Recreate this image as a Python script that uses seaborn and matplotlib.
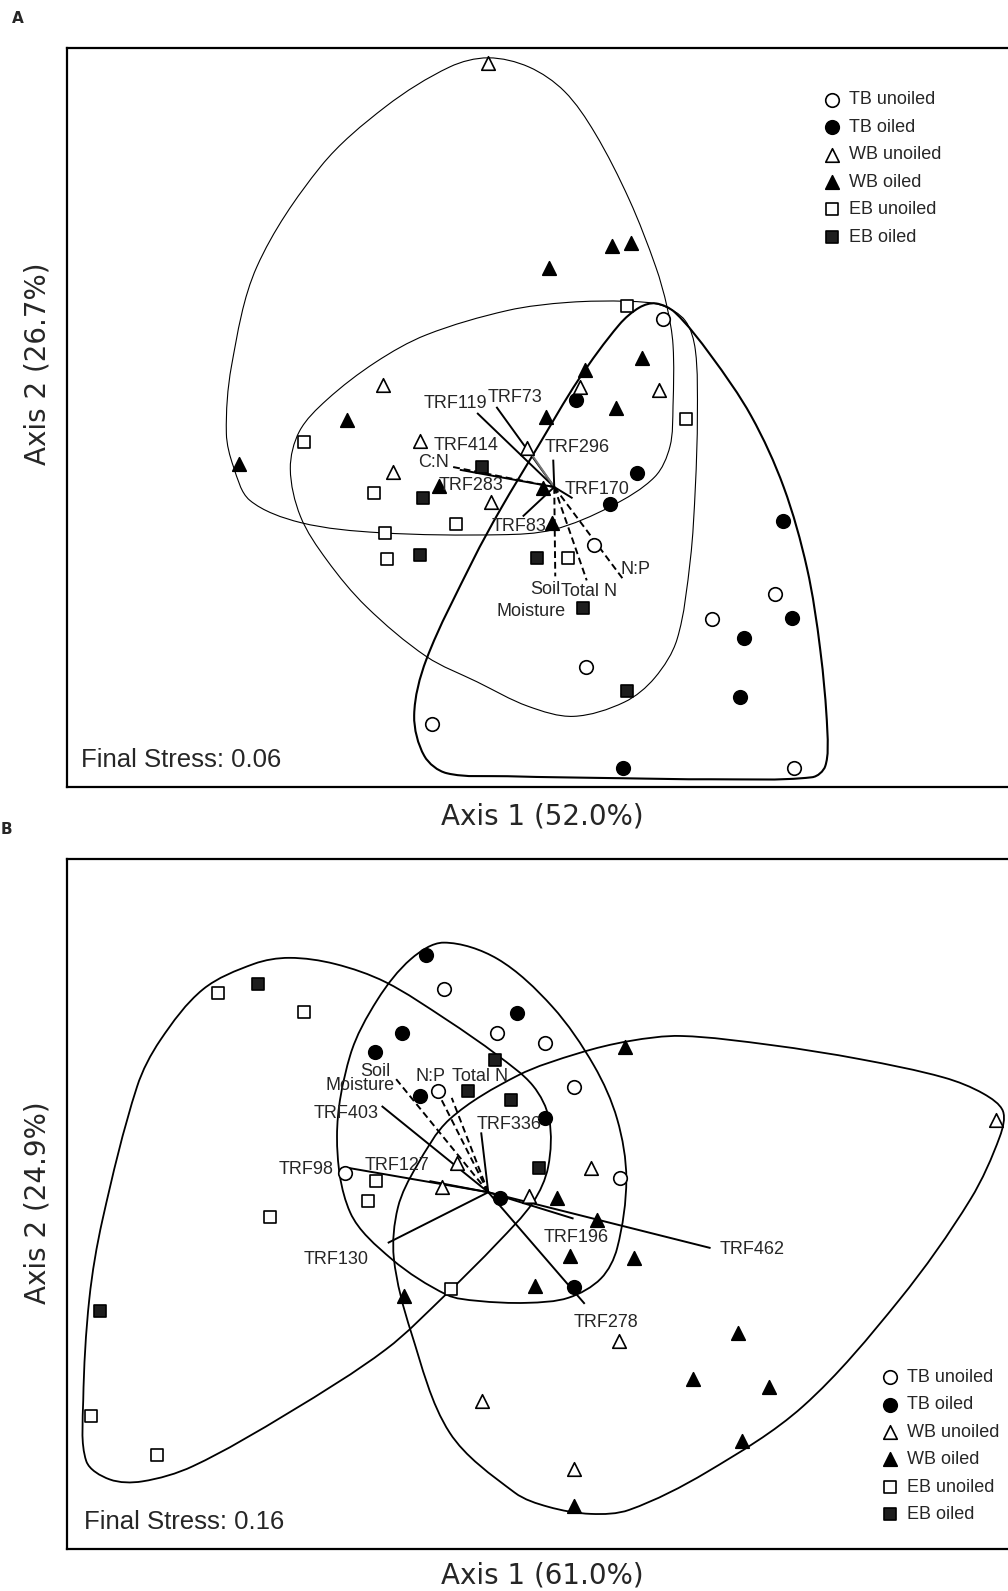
import numpy as np
import pandas as pd
import matplotlib
matplotlib.use('Agg')
import matplotlib.pyplot as plt
import seaborn as sns
from matplotlib.path import Path
from matplotlib.patches import PathPatch

# ---------------- Panel A data (NMDS scores, arbitrary units) ----------------
a_tb_unoiled_x = [5.87, 5.19, 6.35, 6.97, 5.11, 3.60, 7.16]
a_tb_unoiled_y = [4.62, 2.39, 1.66, 1.91, 1.19, 0.62, 0.19]
a_tb_oiled_x = [5.01, 5.62, 5.35, 7.05, 7.14, 6.67, 6.63, 5.48]
a_tb_oiled_y = [3.82, 3.10, 2.79, 2.63, 1.67, 1.47, 0.89, 0.19]
a_wb_unoiled_x = [4.15, 3.11, 5.05, 5.83, 3.48, 4.53, 3.21, 4.18]
a_wb_unoiled_y = [7.14, 3.97, 3.95, 3.92, 3.41, 3.34, 3.11, 2.81]
a_wb_oiled_x = [1.69, 2.76, 4.75, 5.37, 5.56, 5.10, 5.66, 4.72, 5.41, 3.66, 4.69, 4.78]
a_wb_oiled_y = [3.19, 3.62, 5.12, 5.34, 5.37, 4.11, 4.23, 3.65, 3.74, 2.97, 2.95, 2.61]
a_eb_unoiled_x = [5.52, 2.33, 6.10, 3.02, 3.13, 3.83, 3.15, 4.94]
a_eb_unoiled_y = [4.74, 3.40, 3.63, 2.90, 2.51, 2.60, 2.25, 2.26]
a_eb_oiled_x = [4.09, 3.51, 3.48, 4.63, 5.08, 5.52]
a_eb_oiled_y = [3.16, 2.85, 2.29, 2.26, 1.77, 0.95]

# joint plot vectors (origin + tips)
a_origin = (4.80, 2.96)
a_trf_names = ['TRF119', 'TRF73', 'TRF414', 'TRF296', 'TRF283', 'TRF170', 'TRF83']
a_trf_x = [4.04, 4.23, 4.53, 4.79, 3.87, 4.98, 4.49]
a_trf_y = [3.69, 3.75, 3.35, 3.23, 3.13, 2.85, 2.67]
a_env_names = ['C:N', 'Soil\nMoisture', 'Total N', 'N:P']
a_env_x = [3.79, 4.81, 5.12, 5.48]
a_env_y = [3.16, 2.08, 2.04, 2.05]

# vector label anchors
a_lab_text = ['TRF119', 'TRF73', 'TRF414', 'TRF296', 'C:N', 'TRF283', 'TRF170', 'TRF83',
              'N:P', 'Soil', 'Moisture', 'Total N']
a_lab_x = [3.83, 4.41, 3.93, 5.03, 3.61, 3.98, 5.22, 4.45, 5.60, 4.71, 4.57, 5.14]
a_lab_y = [3.78, 3.84, 3.37, 3.35, 3.20, 2.98, 2.94, 2.57, 2.15, 1.95, 1.73, 1.93]

# group hulls
a_hull_tb_x = [5.80, 5.99, 6.34, 6.74, 7.06, 7.29, 7.42, 7.49, 7.47, 7.34, 6.34, 5.48, 4.34,
               3.74, 3.52, 3.42, 3.54, 4.00, 4.27, 4.64, 5.04, 5.44, 5.64]
a_hull_tb_y = [4.77, 4.68, 4.26, 3.66, 2.96, 2.16, 1.36, 0.56, 0.21, 0.10, 0.08, 0.09, 0.11,
               0.14, 0.31, 0.71, 1.26, 2.24, 2.74, 3.36, 4.02, 4.56, 4.73]
a_hull_wb_x = [4.15, 4.55, 4.90, 5.20, 5.54, 5.80, 5.91, 5.97, 5.97, 5.94, 5.79, 5.36, 4.79,
               4.27, 3.08, 2.30, 1.80, 1.64, 1.57, 1.62, 1.87, 2.50, 3.14, 3.77]
a_hull_wb_y = [7.19, 7.10, 6.86, 6.45, 5.79, 5.13, 4.74, 4.36, 3.76, 3.36, 3.06, 2.77, 2.54,
               2.49, 2.51, 2.61, 2.83, 3.16, 3.49, 4.15, 5.13, 6.12, 6.71, 7.10]
a_hull_eb_x = [5.53, 5.86, 6.09, 6.19, 6.21, 6.19, 6.14, 6.01, 5.79, 5.49, 4.99, 4.54, 4.04,
               3.54, 2.95, 2.56, 2.30, 2.20, 2.29, 2.56, 3.04, 3.54, 4.34, 4.94]
a_hull_eb_y = [4.79, 4.75, 4.60, 4.31, 3.66, 2.96, 2.24, 1.46, 1.08, 0.84, 0.70, 0.80, 1.04,
               1.29, 1.78, 2.24, 2.67, 3.14, 3.51, 3.82, 4.19, 4.46, 4.70, 4.78]

# ---------------- Panel B data ----------------
b_tb_unoiled_x = [3.71, 4.24, 4.71, 4.99, 3.65, 5.45, 2.74]
b_tb_unoiled_y = [5.52, 5.09, 4.99, 4.56, 4.52, 3.66, 3.71]
b_tb_oiled_x = [3.54, 4.43, 3.30, 3.03, 3.48, 4.71, 4.27, 4.99]
b_tb_oiled_y = [5.86, 5.29, 5.09, 4.90, 4.47, 4.25, 3.46, 2.59]
b_wb_unoiled_x = [9.15, 5.16, 3.84, 3.69, 4.55, 5.44, 4.09, 4.99]
b_wb_unoiled_y = [4.23, 3.76, 3.81, 3.57, 3.48, 2.05, 1.46, 0.79]
b_wb_oiled_x = [5.50, 4.83, 5.22, 4.96, 5.59, 4.61, 3.32, 6.61, 6.17, 6.92, 6.65, 4.99]
b_wb_oiled_y = [4.95, 3.46, 3.25, 2.89, 2.87, 2.60, 2.50, 2.13, 1.68, 1.60, 1.07, 0.43]
b_eb_unoiled_x = [1.49, 2.33, 3.04, 2.97, 2.00, 3.78, 0.24, 0.89]
b_eb_unoiled_y = [5.48, 5.30, 3.63, 3.43, 3.28, 2.57, 1.31, 0.93]
b_eb_oiled_x = [1.88, 4.22, 3.95, 4.37, 4.65, 0.33]
b_eb_oiled_y = [5.57, 4.82, 4.52, 4.43, 3.76, 2.35]

b_origin = (4.15, 3.52)
b_trf_names = ['TRF98', 'TRF127', 'TRF403', 'TRF336', 'TRF130', 'TRF278', 'TRF462', 'TRF196']
b_trf_x = [2.77, 3.57, 3.10, 4.08, 3.16, 5.10, 6.34, 4.99]
b_trf_y = [3.76, 3.63, 4.37, 4.11, 3.02, 2.42, 2.97, 3.26]
b_env_names = ['Soil\nMoisture', 'N:P', 'Total N']
b_env_x = [3.23, 3.69, 3.79]
b_env_y = [4.65, 4.43, 4.45]

b_lab_text = ['Soil', 'Moisture', 'N:P', 'Total N', 'TRF403', 'TRF336', 'TRF98', 'TRF127',
              'TRF130', 'TRF196', 'TRF462', 'TRF278']
b_lab_x = [3.04, 2.89, 3.58, 4.07, 2.75, 4.36, 2.36, 3.25, 2.65, 5.02, 6.75, 5.31]
b_lab_y = [4.71, 4.57, 4.66, 4.66, 4.30, 4.19, 3.74, 3.78, 2.86, 3.07, 2.96, 2.24]

b_hull_tb_x = [3.71, 4.24, 4.78, 5.19, 5.42, 5.51, 5.42, 5.26, 4.94, 4.53, 4.04, 3.74, 3.20,
               2.79, 2.66, 2.79, 3.06, 3.39]
b_hull_tb_y = [5.98, 5.82, 5.35, 4.77, 4.24, 3.65, 2.97, 2.67, 2.48, 2.43, 2.45, 2.51, 2.86,
               3.32, 4.07, 4.87, 5.42, 5.82]
b_hull_wb_x = [6.05, 6.94, 7.82, 8.64, 9.03, 9.22, 9.19, 8.90, 8.20, 7.25, 6.30, 5.54, 5.16,
               4.74, 4.41, 3.77, 3.39, 3.22, 3.26, 3.44, 3.77, 4.44, 5.04, 5.54]
b_hull_wb_y = [5.06, 4.97, 4.83, 4.65, 4.49, 4.32, 4.07, 3.45, 2.46, 1.41, 0.76, 0.39, 0.35,
               0.42, 0.56, 1.15, 2.14, 2.87, 3.37, 3.77, 4.24, 4.67, 4.89, 5.01]
b_hull_eb_x = [2.19, 2.64, 3.14, 3.74, 4.24, 4.59, 4.75, 4.74, 4.59, 4.24, 3.74, 3.14, 2.19,
               1.24, 0.74, 0.42, 0.19, 0.16, 0.22, 0.35, 0.69, 0.92, 1.34, 1.84]
b_hull_eb_y = [5.83, 5.77, 5.59, 5.22, 4.87, 4.57, 4.24, 3.77, 3.42, 3.02, 2.52, 1.97, 1.35,
               0.82, 0.67, 0.69, 0.87, 1.47, 2.47, 3.25, 4.56, 5.02, 5.52, 5.77]

groups = ['TB unoiled', 'TB oiled', 'WB unoiled', 'WB oiled', 'EB unoiled', 'EB oiled']

# ---------------- styling ----------------
sns.set_style('white')
NARROW = ['Liberation Sans Narrow', 'Liberation Sans', 'DejaVu Sans']
plt.rcParams['font.family'] = NARROW

group_marker = {'TB unoiled': 'o', 'TB oiled': 'o', 'WB unoiled': '^',
                'WB oiled': '^', 'EB unoiled': 's', 'EB oiled': 's'}
group_face = {'TB unoiled': 'white', 'TB oiled': 'black', 'WB unoiled': 'white',
              'WB oiled': 'black', 'EB unoiled': 'white', 'EB oiled': '#1e1e1e'}
group_size = {'o': 95, '^': 95, 's': 85}


def hull_path(xs, ys):
    # closed smooth curve through the hull points; tangents scaled by chord length
    pts = np.column_stack([xs, ys])
    n = len(pts)
    verts = [pts[0]]
    codes = [Path.MOVETO]
    for i in range(n):
        p0, p1, p2, p3 = pts[i - 1], pts[i], pts[(i + 1) % n], pts[(i + 2) % n]
        d01 = np.hypot(*(p1 - p0))
        d12 = np.hypot(*(p2 - p1))
        d23 = np.hypot(*(p3 - p2))
        c1 = p1 + (p2 - p0) * d12 / (d01 + d12) / 3
        c2 = p2 - (p3 - p1) * d12 / (d12 + d23) / 3
        verts += [c1, c2, p2]
        codes += [Path.CURVE4] * 3
    return Path(verts, codes)


def draw_panel(ax, pts, hulls, origin, trf, env, labels, stress, stress_x, xlim, ylim, legend_anchor):
    ax.set_xlim(*xlim)
    ax.set_ylim(*ylim)
    for hx, hy, lw in hulls:
        ax.add_patch(PathPatch(hull_path(hx, hy), fill=False, lw=lw, ec='black', zorder=1))
    ox, oy = origin
    names, tx, ty = trf
    for n_, x_, y_ in zip(names, tx, ty):
        col = '#777777' if n_ == 'TRF414' else 'black'
        ax.plot([ox, x_], [oy, y_], color=col, lw=1.4, solid_capstyle='butt', zorder=2)
    names, ex, ey = env
    for n_, x_, y_ in zip(names, ex, ey):
        ax.plot([ox, x_], [oy, y_], color='black', lw=1.4, ls=(0, (3.5, 2)), zorder=2)
    df = pd.concat([pd.DataFrame({'x': gx, 'y': gy, 'group': g})
                    for g, (gx, gy) in zip(groups, pts)], ignore_index=True)
    for g in groups:
        sub = df[df['group'] == g]
        m = group_marker[g]
        sns.scatterplot(data=sub, x='x', y='y', marker=m, color=group_face[g],
                        edgecolor='black', linewidth=1.2, s=group_size[m],
                        label=g, ax=ax, zorder=3)
    lt, lx, ly = labels
    for t, x_, y_ in zip(lt, lx, ly):
        ax.text(x_, y_, t, ha='center', va='center', fontsize=13, zorder=4)
    ax.text(stress_x, 0.27, 'Final Stress: ' + stress, ha='left', va='center', fontsize=18.5)
    ax.set_xticks([])
    ax.set_yticks([])
    ax.set_xlabel('')
    ax.set_ylabel('')
    for s in ['left', 'bottom', 'top', 'right']:
        ax.spines[s].set_linewidth(1.6)
        ax.spines[s].set_color('black')
    ax.legend(loc='upper left', bbox_to_anchor=legend_anchor, bbox_transform=fig.transFigure,
              frameon=False, fontsize=13, handletextpad=0.45, handlelength=1.0,
              labelspacing=0.58, borderpad=0, borderaxespad=0, markerscale=1.0)


fig = plt.figure(figsize=(10.08, 15.91), dpi=100)
W, H = 993.0, 1568.0

ax_a = fig.add_axes([66 / W, 1 - 776 / H, 940 / W, 729 / H])
ax_b = fig.add_axes([66 / W, 1 - 1527 / H, 940 / W, 680 / H])

draw_panel(ax_a,
           [(a_tb_unoiled_x, a_tb_unoiled_y), (a_tb_oiled_x, a_tb_oiled_y),
            (a_wb_unoiled_x, a_wb_unoiled_y), (a_wb_oiled_x, a_wb_oiled_y),
            (a_eb_unoiled_x, a_eb_unoiled_y), (a_eb_oiled_x, a_eb_oiled_y)],
           [(a_hull_tb_x, a_hull_tb_y, 1.5), (a_hull_wb_x, a_hull_wb_y, 0.8),
            (a_hull_eb_x, a_hull_eb_y, 0.8)],
           a_origin, (a_trf_names, a_trf_x, a_trf_y), (a_env_names, a_env_x, a_env_y),
           (a_lab_text, a_lab_x, a_lab_y), '0.06', 0.14, (0, 9.4), (0, 7.29),
           (811 / W, 1 - 90 / H))

draw_panel(ax_b,
           [(b_tb_unoiled_x, b_tb_unoiled_y), (b_tb_oiled_x, b_tb_oiled_y),
            (b_wb_unoiled_x, b_wb_unoiled_y), (b_wb_oiled_x, b_wb_oiled_y),
            (b_eb_unoiled_x, b_eb_unoiled_y), (b_eb_oiled_x, b_eb_oiled_y)],
           [(b_hull_tb_x, b_hull_tb_y, 1.3), (b_hull_wb_x, b_hull_wb_y, 1.3),
            (b_hull_eb_x, b_hull_eb_y, 1.3)],
           b_origin, (b_trf_names, b_trf_x, b_trf_y), (b_env_names, b_env_x, b_env_y),
           (b_lab_text, b_lab_x, b_lab_y), '0.16', 0.17, (0, 9.4), (0, 6.80),
           (868 / W, 1 - 1349 / H))

# axis titles and panel letters
AX_FONT = ['DejaVu Sans']
fig.text(534 / W, 1 - 805 / H, 'Axis 1 (52.0%)', ha='center', va='center', fontsize=20, family=AX_FONT)
fig.text(37 / W, 1 - 358 / H, 'Axis 2 (26.7%)', ha='center', va='center', rotation=90, fontsize=20, family=AX_FONT)
fig.text(534 / W, 1 - 1553 / H, 'Axis 1 (61.0%)', ha='center', va='center', fontsize=20, family=AX_FONT)
fig.text(37 / W, 1 - 1185 / H, 'Axis 2 (24.9%)', ha='center', va='center', rotation=90, fontsize=20, family=AX_FONT)
fig.text(12 / W, 1 - 18 / H, 'A', ha='left', va='center', fontsize=11, fontweight='bold', family=AX_FONT)
fig.text(1 / W, 1 - 818 / H, 'B', ha='left', va='center', fontsize=11, fontweight='bold', family=AX_FONT)

fig.savefig('out.png', dpi=100, facecolor='white')
